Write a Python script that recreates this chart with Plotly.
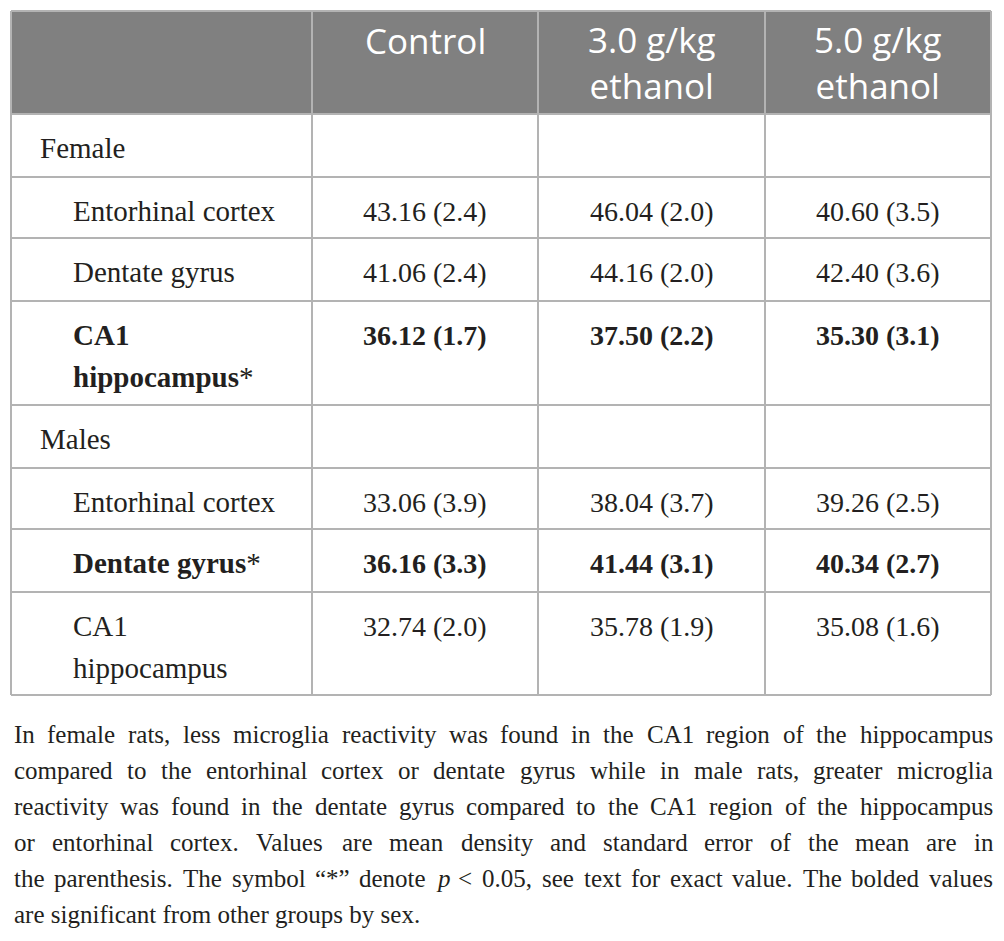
import plotly.graph_objects as go

# ---------------- data ----------------
col_headers = ["Control", "3.0 g/kg<br>ethanol", "5.0 g/kg<br>ethanol"]
groups = ["Female", "Males"]
regions = ["Entorhinal cortex", "Dentate gyrus", "CA1<br>hippocampus"]

female_mean = [[43.16, 46.04, 40.60],
               [41.06, 44.16, 42.40],
               [36.12, 37.50, 35.30]]
female_sem = [[2.4, 2.0, 3.5],
              [2.4, 2.0, 3.6],
              [1.7, 2.2, 3.1]]
female_sig = [False, False, True]

male_mean = [[33.06, 38.04, 39.26],
             [36.16, 41.44, 40.34],
             [32.74, 35.78, 35.08]]
male_sem = [[3.9, 3.7, 2.5],
            [3.3, 3.1, 2.7],
            [2.0, 1.9, 1.6]]
male_sig = [False, True, False]

caption_lines = [
    "In female rats, less microglia reactivity was found in the CA1 region of the hippocampus",
    "compared to the entorhinal cortex or dentate gyrus while in male rats, greater microglia",
    "reactivity was found in the dentate gyrus compared to the CA1 region of the hippocampus",
    "or entorhinal cortex. Values are mean density and standard error of the mean are in",
    "the parenthesis. The symbol \u201c*\u201d denote p < 0.05, see text for exact value. The bolded values",
    "are significant from other groups by sex.",
]

# ---------------- layout constants ----------------
W, H = 1004, 941
X_EDGES = [11, 312, 538, 765, 991]
HEAD_TOP, HEAD_BOT = 11, 114
ROW_H = [63, 61, 63, 104, 63, 61, 63, 103]
LINE_COL = "#b3b3b3"
HEAD_FILL = "#808080"
TXT = "#231f20"
SERIF = "Liberation Serif"
SANS = "Open Sans"
LABEL_FS = 29
VALUE_FS = 28
HEAD_FS = 35
CAP_FS = 25
CAP_LEFT, CAP_RIGHT = 12, 991
CAP_Y0, CAP_DY = 734, 36

fig = go.Figure()
fig.add_trace(go.Scatter(x=[], y=[], showlegend=False))

shapes = []
annotations = []


def txt(x, y, text, size, family, color=TXT, xanchor="center"):
    annotations.append(dict(x=x, y=y, xref="x", yref="y", text=text,
                            showarrow=False, xanchor=xanchor, yanchor="middle",
                            font=dict(size=size, family=family, color=color)))


# header background
shapes.append(dict(type="rect", xref="x", yref="y", x0=X_EDGES[0], x1=X_EDGES[-1],
                   y0=HEAD_TOP, y1=HEAD_BOT, fillcolor=HEAD_FILL, line=dict(width=0),
                   layer="below"))

# header text
for i, h in enumerate(col_headers):
    cx = (X_EDGES[i + 1] + X_EDGES[i + 2]) / 2
    n = len(h.split("<br>"))
    first = HEAD_TOP + 29
    step = HEAD_FS * 1.3
    txt(cx, first + step * (n - 1) / 2, h, HEAD_FS, SANS, color="white")

# body rows
rows = []
for g, means, sems, sig in [(groups[0], female_mean, female_sem, female_sig),
                            (groups[1], male_mean, male_sem, male_sig)]:
    rows.append(("group", g, None, False))
    for r, reg in enumerate(regions):
        vals = [f"{means[r][c]:.2f} ({sems[r][c]:.1f})" for c in range(3)]
        rows.append(("sub", reg, vals, sig[r]))

y_edges = [HEAD_BOT]
for h in ROW_H:
    y_edges.append(y_edges[-1] + h)

for (kind, label, vals, bold), top in zip(rows, y_edges[:-1]):
    ytxt = top + 34
    lx = 38 if kind == "group" else 71
    parts = label.split("<br>")
    for k, part in enumerate(parts):
        t = part
        if bold:
            t = f"<b>{t}</b>"
            if k == len(parts) - 1:
                t = t + "*"
        txt(lx, ytxt + 42 * k, t, LABEL_FS, SERIF, xanchor="left")
    if vals:
        for c, v in enumerate(vals):
            cx = (X_EDGES[c + 1] + X_EDGES[c + 2]) / 2
            txt(cx, ytxt, f"<b>{v}</b>" if bold else v, VALUE_FS, SERIF)

# grid lines
bottom = y_edges[-1]
for x in X_EDGES:
    shapes.append(dict(type="line", xref="x", yref="y", x0=x, x1=x, y0=HEAD_TOP, y1=bottom,
                       line=dict(color=LINE_COL, width=2)))
for y in [HEAD_TOP] + y_edges:
    shapes.append(dict(type="line", xref="x", yref="y", x0=X_EDGES[0], x1=X_EDGES[-1], y0=y, y1=y,
                       line=dict(color=LINE_COL, width=2)))

# ---------------- caption (justified with Times metrics) ----------------
WID = {' ': 250, '!': 333, '"': 408, "'": 333, '(': 333, ')': 333, '*': 500, ',': 250,
       '-': 333, '.': 250, '/': 278, ':': 278, ';': 278, '<': 564, '>': 564, '?': 444,
       '\u201c': 444, '\u201d': 444}
for d in "0123456789":
    WID[d] = 500
for ch, w in zip("ABCDEFGHIJKLMNOPQRSTUVWXYZ",
                 [722, 667, 667, 722, 611, 556, 722, 722, 333, 389, 722, 611, 889, 722, 722,
                  556, 722, 667, 556, 611, 722, 722, 944, 722, 722, 611]):
    WID[ch] = w
for ch, w in zip("abcdefghijklmnopqrstuvwxyz",
                 [444, 500, 444, 500, 444, 333, 500, 500, 278, 278, 500, 278, 778, 500, 500,
                  500, 500, 333, 389, 278, 500, 500, 722, 500, 500, 444]):
    WID[ch] = w


def wwidth(s):
    return sum(WID.get(ch, 500) for ch in s) * CAP_FS / 1000.0


def disp(word):
    if word == "p":
        return "<i>p</i>"
    return word.replace("<", "&lt;")


for i, line in enumerate(caption_lines):
    y = CAP_Y0 + CAP_DY * i
    if i == len(caption_lines) - 1:
        txt(CAP_LEFT, y, line.replace("<", "&lt;"), CAP_FS, SERIF, xanchor="left")
        continue
    words = line.split(" ")
    widths = [wwidth(w) for w in words]
    gap = (CAP_RIGHT - CAP_LEFT - sum(widths)) / (len(words) - 1)
    x = CAP_LEFT
    for w, wd in zip(words, widths):
        txt(x, y, disp(w), CAP_FS, SERIF, xanchor="left")
        x += wd + gap

fig.update_layout(
    width=W, height=H,
    margin=dict(l=0, r=0, t=0, b=0, pad=0),
    paper_bgcolor="white", plot_bgcolor="white",
    xaxis=dict(range=[0, W], visible=False, fixedrange=True),
    yaxis=dict(range=[H, 0], visible=False, fixedrange=True),
    shapes=shapes, annotations=annotations,
    showlegend=False,
)

fig.write_html("out.html",
               config=dict(displayModeBar=False, staticPlot=True),
               post_script="document.body.style.margin='0';document.body.style.overflow='hidden';")
